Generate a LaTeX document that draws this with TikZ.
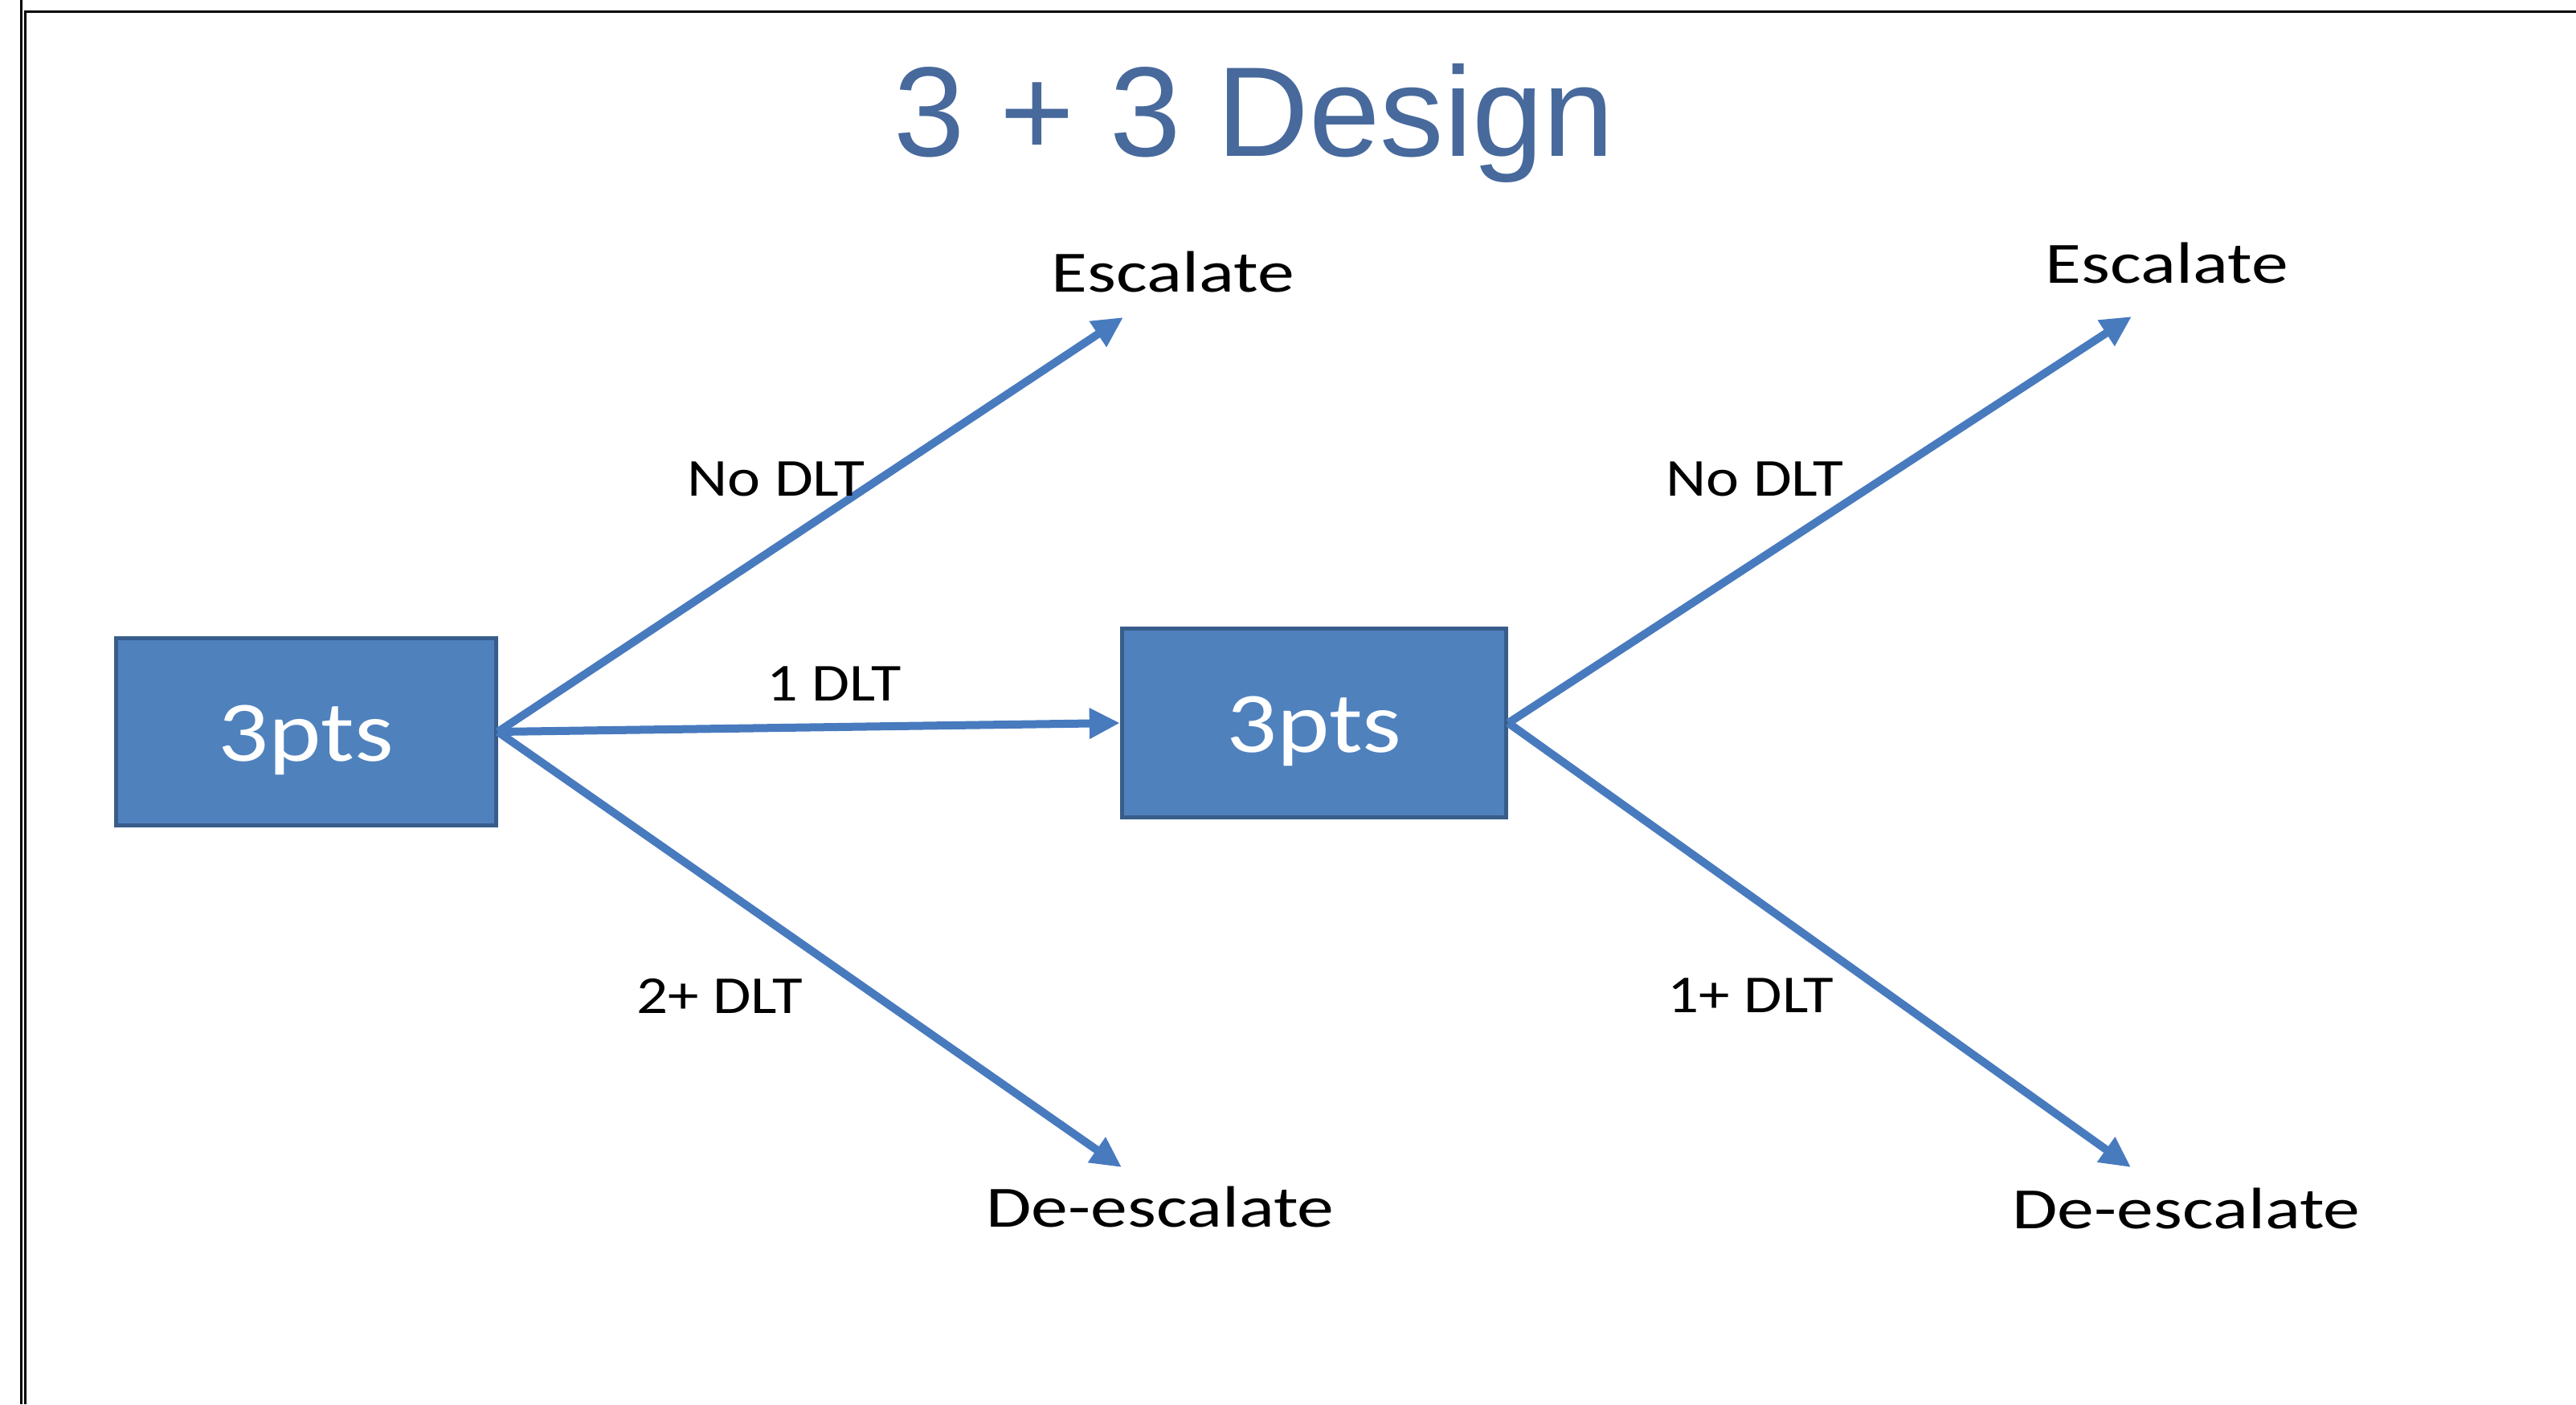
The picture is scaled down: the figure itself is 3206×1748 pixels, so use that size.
\documentclass[tikz,border=0pt]{standalone}
\usepackage{fontspec}
\usepackage{graphicx}
\setmainfont{Carlito}
\newfontfamily\titlefont{Liberation Sans}
\usetikzlibrary{arrows.meta}
\definecolor{titleblue}{RGB}{71,105,156}
\definecolor{boxfill}{RGB}{79,129,189}
\definecolor{boxline}{RGB}{56,93,138}
\definecolor{arrowblue}{RGB}{72,122,190}
\newcommand\stretchtxt[2]{\scalebox{#1}[1]{#2}}
\newcommand\lowertxt[1]{\raisebox{-0.1cm}[\height][\depth]{#1}}
\begin{document}
\begin{tikzpicture}[x=0.01cm,y=-0.01cm,
  ptsbox/.style={draw=boxline, fill=boxfill, line width=0.05cm, minimum width=4.72cm, minimum height=2.32cm, inner sep=0pt, text=white, font=\fontsize{30.5}{36}\selectfont},
  biglabel/.style={anchor=base, inner sep=0pt, font=\fontsize{20.7}{24}\selectfont},
  smalllabel/.style={anchor=base, inner sep=0pt, font=\fontsize{18.9}{22}\selectfont},
  frameline/.style={draw=black, line width=0.03cm},
  arr/.style={draw=arrowblue, line width=0.1cm, -{Triangle[length=0.38cm,width=0.36cm]}}]
\useasboundingbox (0,0) rectangle (3206,1748);
% frame
\draw[frameline] (26.5,0) -- (26.5,1748);
\draw[frameline] (3206,14) -- (31.3,14) -- (31.3,1748);
% title
\node[anchor=base, inner sep=0pt, text=titleblue, font=\titlefont\fontsize{45.2}{50}\selectfont] (title) at (1561,194) {3 + 3 Design};
% boxes
\node[ptsbox] (b1) at (381,911) {\lowertxt{\stretchtxt{1.16}{3pts}}};
\node[ptsbox, minimum width=4.78cm, minimum height=2.34cm] (b2) at (1635.5,900) {\lowertxt{\stretchtxt{1.16}{3pts}}};
% arrow tips
\coordinate (e1) at (1398,395);
\coordinate (d1) at (1396,1453);
\coordinate (e2) at (2653,394);
\coordinate (d2) at (2652,1453);
% outcome labels
\node[biglabel] (esc1) at (1460,363) {\stretchtxt{1.26}{Escalate}};
\node[biglabel] (esc2) at (2697,352) {\stretchtxt{1.26}{Escalate}};
\node[biglabel] (des1) at (1444,1527) {\stretchtxt{1.26}{De-escalate}};
\node[biglabel] (des2) at (2721,1529) {\stretchtxt{1.26}{De-escalate}};
% arrows
\draw[arr] (b1.east) -- (e1);
\draw[arr] (b1.east) -- (b2.west);
\draw[arr] (b1.east) -- (d1);
\draw[arr] (b2.east) -- (e2);
\draw[arr] (b2.east) -- (d2);
% edge labels
\node[smalllabel] (l1) at (966,617) {\stretchtxt{1.17}{No DLT}};
\node[smalllabel] (l2) at (1038,872) {\stretchtxt{1.15}{1 DLT}};
\node[smalllabel] (l3) at (896,1261) {\stretchtxt{1.16}{2+ DLT}};
\node[smalllabel] (l4) at (2184,617) {\stretchtxt{1.17}{No DLT}};
\node[smalllabel] (l5) at (2179,1260) {\stretchtxt{1.16}{1+ DLT}};
\end{tikzpicture}
\end{document}
